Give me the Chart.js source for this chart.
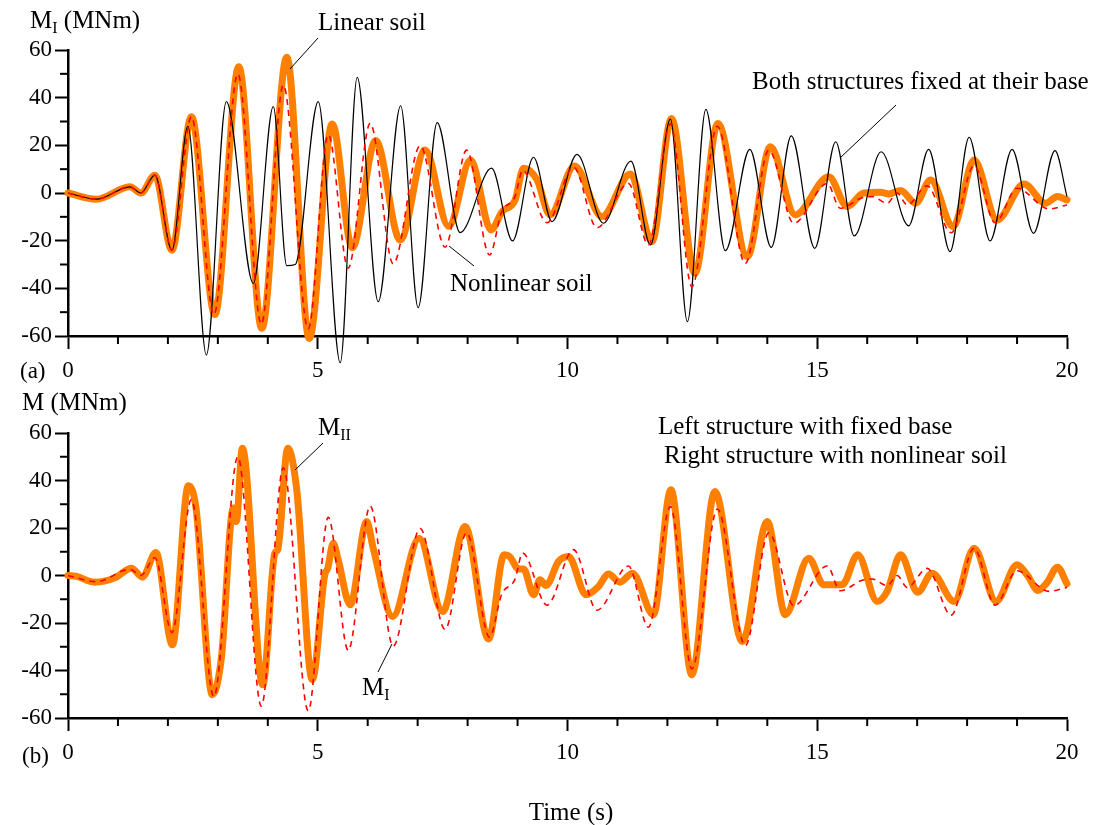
<!DOCTYPE html>
<html><head><meta charset="utf-8">
<script src="https://cdn.jsdelivr.net/npm/chart.js@4.4.0/dist/chart.umd.min.js"></script>
<style>
html,body{margin:0;padding:0;background:#fff;}
#wrap{position:relative;width:1093px;height:825px;overflow:hidden;}
#c1{position:absolute;left:0;top:0;}
#c2{position:absolute;left:0;top:392px;}
</style></head><body>
<div id="wrap">
<canvas id="c1" width="1093" height="392"></canvas>
<canvas id="c2" width="1093" height="433"></canvas>
</div>
<script>
// ---------- DATA ----------
// Panel (a): M_I, linear soil (thick orange)
const linTime = [0,0.57,1.24,1.46,1.74,2.08,2.47,2.94,3.42,3.88,4.38,4.83,5.29,5.69,6.16,6.65,7.15,7.62,8.06,8.47,8.69,8.95,9.12,9.39,9.65,10.14,10.69,11.26,11.69,12.08,12.55,13.01,13.6,14.06,14.56,15.23,15.6,15.93,16.27,16.43,16.67,16.97,17.27,17.72,18.14,18.6,19.14,19.57,19.81,20];
const linVal  = [0,-2.6,2.6,0,7.5,-24,32,-51,53,-56.8,57,-61,29,-23,22,-19.7,18,-14,13.8,-15.5,-7.8,-3,10.4,5.5,-9.2,11.3,-9.9,8,-20.4,31.3,-33.7,29.2,-26.7,19.4,-9.2,6.8,-5.7,0,0.3,-0.4,1,-4.3,5.5,-14.1,13.8,-11.3,3.8,-4.3,-1.5,-2.9];
// Panel (a): both structures fixed at their base (thin black)
const fixTime = [0,0.57,1.24,1.46,1.74,2.08,2.4,2.77,3.17,3.71,4.11,4.38,4.55,5.01,5.45,5.79,6.21,6.66,7.01,7.39,7.85,8.48,8.9,9.32,9.69,10.19,10.72,11.27,11.66,12.06,12.4,12.77,13.16,13.65,14.08,14.48,14.95,15.37,15.74,16.28,16.83,17.23,17.66,18.04,18.46,18.9,19.33,19.76,20];
const fixVal  = [0,-2.6,2.6,0,7.5,-24,28,-68,38.3,-37.9,36.2,-30.5,-30,38.3,-71.2,48.5,-45.6,36.6,-48.1,29.5,-16.6,10.4,-20.1,15,-12,16.2,-12.7,13.4,-21.8,31,-54,35.1,-24.2,18.3,-22.8,24,-23.2,21.5,-18,17.3,-13.8,18.3,-24.6,23.4,-20.1,18.3,-16.9,17.8,-1.5];
// M_I with nonlinear soil (red dashed), panels (a) and (b)
const nlTime = [0,0.57,1.24,1.46,1.74,2.08,2.47,2.92,3.4,3.87,4.31,4.81,5.21,5.61,6.05,6.51,7.05,7.55,7.98,8.44,8.68,8.95,9.1,9.59,10.12,10.59,11.22,11.62,12.06,12.49,13.0,13.56,14.03,14.53,15.2,15.46,15.9,16.1,16.4,16.6,16.8,17.2,17.68,18.14,18.56,19.0,19.64,20];
const nlVal  = [0,-2.6,2.6,0,7.5,-24,32,-51,50,-55,45.3,-57,24.5,-31.5,29.2,-29.7,19.8,-22.7,18,-26,-8,-1.5,9.5,-12.5,10.9,-14.6,4,-21.8,29,-39.3,28,-29.5,18,-12.7,4,-6.4,-2,-1.5,-4.3,0,-5,3,-16.7,11.5,-12.5,2,-6.7,-5];
// Panel (b): M_II, left structure with fixed base (thick orange)
const m2Time = [0,0.17,0.53,0.94,1.27,1.49,1.76,2.09,2.41,2.56,2.89,3.07,3.31,3.37,3.49,3.9,4.14,4.2,4.4,4.58,4.89,5.14,5.2,5.31,5.41,5.65,5.98,6.11,6.5,7.03,7.5,7.95,8.42,8.73,8.85,9.02,9.12,9.32,9.45,9.57,9.82,10.02,10.37,10.62,10.82,11.05,11.3,11.72,12.07,12.49,12.95,13.5,14.0,14.36,14.83,15.13,15.5,15.81,16.2,16.4,16.67,17.01,17.3,17.74,18.14,18.58,19.0,19.2,19.42,19.6,19.81,20];
const m2Val  = [0,-0.4,-2.8,-1,3.1,-0.7,9.7,-29.2,37.8,28.8,-50.2,-34.8,28.4,22.7,53.6,-46,9.4,11,53.6,36,-43.9,0.3,3,13.6,6.5,-12.3,22.7,11.5,-17.3,15.7,-15.2,20.6,-26.7,8.7,7.7,2.7,2.7,-8.1,-1.8,-4.2,5.9,8,-8.1,-4.6,0.6,-2.8,1,-16.5,36.1,-41.8,35.4,-27.8,22.7,-16.5,7.3,-3.9,-3.9,8.7,-10.9,-6.7,8.7,-7.1,1,-10.9,11.5,-10.9,4.5,0.3,-6.3,-3,3.5,-3.5];
// Ticks
const xTicks = [0,5,10,15,20];
const xMinor = [1,2,3,4,6,7,8,9,11,12,13,14,16,17,18,19];
const yTicks = [-60,-40,-20,0,20,40,60];
const yMinor = [-50,-30,-10,10,30,50];

// ---------- HELPERS ----------
const SERIF = '"Liberation Serif","Times New Roman",serif';
function pts(t, v){ return t.map((x,i)=>({x:x, y:v[i]})); }
function orangeDs(d){ return {data:d, borderColor:'#ff8000', borderWidth:7, pointRadius:0, cubicInterpolationMode:'monotone', borderJoinStyle:'round', borderCapStyle:'round', clip:false, order:2}; }
function blackDs(d){ return {data:d, borderColor:'#000000', borderWidth:1.2, pointRadius:0, cubicInterpolationMode:'monotone', clip:false, order:1}; }
function redDs(d){ return {data:d, borderColor:'#ff0000', borderWidth:1.6, borderDash:[6,5], pointRadius:0, cubicInterpolationMode:'monotone', clip:false, order:0}; }

function drawRich(ctx, x, y, parts){
  let cx = x;
  for (const p of parts){
    ctx.font = p.size + 'px ' + SERIF;
    ctx.fillText(p.t, cx, y + (p.dy||0));
    cx += ctx.measureText(p.t).width;
  }
}
function line(ctx,x1,y1,x2,y2){ ctx.beginPath(); ctx.moveTo(x1,y1); ctx.lineTo(x2,y2); ctx.stroke(); }

function decorPlugin(drawExtra){
  return {
    id:'decor',
    afterDraw(chart){
      const ctx = chart.ctx, xs = chart.scales.x, ys = chart.scales.y, a = chart.chartArea;
      ctx.save();
      ctx.strokeStyle = '#000'; ctx.lineWidth = 2;
      for (const v of xMinor){ const px = xs.getPixelForValue(v); line(ctx, px, a.bottom, px, a.bottom+8); }
      for (const v of yMinor){ const py = ys.getPixelForValue(v); line(ctx, a.left, py, a.left-8, py); }
      ctx.fillStyle = '#000'; ctx.textBaseline = 'alphabetic'; ctx.textAlign = 'left';
      ctx.lineWidth = 1;
      drawExtra(ctx, chart);
      ctx.restore();
    }
  };
}

function makeOptions(xHeight){
  return {
    responsive:false, animation:false, events:[],
    layout:{padding:{left:0,right:26,top:0,bottom:0}},
    plugins:{legend:{display:false}, tooltip:{enabled:false}},
    scales:{
      x:{type:'linear', min:0, max:20,
         afterBuildTicks(s){ s.ticks = xTicks.map(v=>({value:v})); },
         afterFit(s){ s.height = xHeight; },
         ticks:{color:'#000', font:{family:SERIF, size:23}, padding:8, maxRotation:0, autoSkip:false},
         grid:{display:true, drawOnChartArea:false, drawTicks:true, tickLength:13, tickWidth:2, tickColor:'#000'},
         border:{display:true, color:'#000', width:2.5}},
      y:{type:'linear', min:-60, max:60,
         afterBuildTicks(s){ s.ticks = yTicks.map(v=>({value:v})); },
         afterFit(s){ s.width = 68; },
         ticks:{color:'#000', font:{family:SERIF, size:23}, padding:3, autoSkip:false},
         grid:{display:true, drawOnChartArea:false, drawTicks:true, tickLength:13, tickWidth:2, tickColor:'#000'},
         border:{display:true, color:'#000', width:2.5}}
    }
  };
}

// ---------- CHART (a) ----------
const optA = makeOptions(56);
optA.layout.padding.top = 50;
new Chart(document.getElementById('c1'), {
  type:'line',
  data:{datasets:[ redDs(pts(nlTime,nlVal)), blackDs(pts(fixTime,fixVal)), orangeDs(pts(linTime,linVal)) ]},
  options: optA,
  plugins:[decorPlugin((ctx)=>{
    drawRich(ctx, 30, 28, [{t:'M',size:25},{t:'I',size:16,dy:5},{t:' (MNm)',size:25}]);
    drawRich(ctx, 318, 30, [{t:'Linear soil',size:25}]);
    line(ctx, 318, 38, 290, 69);
    drawRich(ctx, 752, 89, [{t:'Both structures fixed at their base',size:25}]);
    line(ctx, 896, 105, 840, 158);
    drawRich(ctx, 450, 291, [{t:'Nonlinear soil',size:25}]);
    line(ctx, 474, 266, 449, 246);
    drawRich(ctx, 20, 378, [{t:'(a)',size:23}]);
  })]
});

// ---------- CHART (b) ----------
const optB = makeOptions(107);
optB.layout.padding.top = 41;
new Chart(document.getElementById('c2'), {
  type:'line',
  data:{datasets:[ redDs(pts(nlTime,nlVal)), orangeDs(pts(m2Time,m2Val)) ]},
  options: optB,
  plugins:[decorPlugin((ctx)=>{
    drawRich(ctx, 22, 18, [{t:'M (MNm)',size:25}]);
    drawRich(ctx, 318, 43, [{t:'M',size:25},{t:'II',size:16,dy:5}]);
    line(ctx, 323, 51, 295, 78);
    drawRich(ctx, 362, 303, [{t:'M',size:25},{t:'I',size:16,dy:5}]);
    line(ctx, 378, 280, 392, 252);
    drawRich(ctx, 658, 42, [{t:'Left structure with fixed base',size:25}]);
    drawRich(ctx, 664, 71, [{t:'Right structure with nonlinear soil',size:25}]);
    drawRich(ctx, 22, 371, [{t:'(b)',size:23}]);
    ctx.textAlign = 'center';
    drawRich(ctx, 571, 428, [{t:'Time (s)',size:25}]);
  })]
});
</script>
</body></html>
